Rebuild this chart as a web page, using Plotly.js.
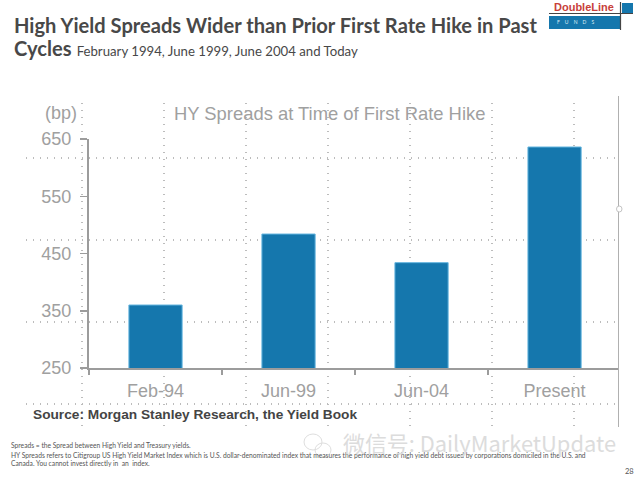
<!DOCTYPE html>
<html>
<head>
<meta charset="utf-8">
<script src="https://cdn.plot.ly/plotly-3.0.1.min.js"></script>
<style>html,body{margin:0;padding:0;background:#fff}</style>
</head>
<body>
<div id="chart" style="width:640px;height:477px"></div>
<script>
const categories = ["Feb-94", "Jun-99", "Jun-04", "Present"];
const spreads = [360, 484, 434, 636];
const yTicks = [250, 350, 450, 550, 650];

const W = 640, H = 477;
const px = x => x / W;
const py = y => 1 - y / H;

const GREY = "#9c9c9c";
const SANS = "Liberation Sans, Arial, sans-serif";
const CAL = "Lato, sans-serif";

const note = (x, y, text, size, color, family, anchor) => ({
  xref: "paper", yref: "paper", x: px(x), y: py(y), text, showarrow: false,
  xanchor: anchor || "left", yanchor: "middle", align: "left",
  font: {size, color, family}
});
const box = (x0, x1, y0, y1, color) => ({
  type: "rect", xref: "paper", yref: "paper", x0: px(x0), x1: px(x1), y0: py(y0), y1: py(y1),
  fillcolor: color, line: {width: 0}
});
const rule = (x0, x1, y0, y1, color, width) => ({
  type: "line", xref: "paper", yref: "paper", x0: px(x0), x1: px(x1), y0: py(y0), y1: py(y1),
  line: {color, width}
});
const ring = (x0, x1, y0, y1, color, fill) => ({
  type: "circle", xref: "paper", yref: "paper", x0: px(x0), x1: px(x1), y0: py(y0), y1: py(y1),
  fillcolor: fill, line: {color, width: 1}
});

const data = [
  {type: "scatter", x: [null], y: [null], xaxis: "x", yaxis: "y", hoverinfo: "skip", showlegend: false},
  {type: "bar", x: categories, y: spreads, xaxis: "x2", yaxis: "y2", width: 0.4,
   marker: {color: "#1577ad", line: {color: "#63b4de", width: 1}}, showlegend: false}
];

const gridStyle = {showgrid: true, griddash: "1.2px,5.8px", gridcolor: "#bcbcbc", gridwidth: 1.2,
  showticklabels: false, zeroline: false, ticks: "", fixedrange: true};

const layout = {
  width: W, height: H, margin: {l: 0, r: 0, t: 0, b: 0},
  paper_bgcolor: "#fff", plot_bgcolor: "rgba(0,0,0,0)",
  showlegend: false, bargap: 0.6,
  xaxis: Object.assign({domain: [px(26), px(617)], range: [26, 617], tick0: 82, dtick: 82, anchor: "y"}, gridStyle),
  yaxis: Object.assign({domain: [py(427), py(103)], range: [427, 103], tick0: 76, dtick: 82, anchor: "x"}, gridStyle),
  xaxis2: {domain: [px(89), px(618)], anchor: "y2", type: "category", categoryorder: "array",
    categoryarray: categories, range: [-0.5, 3.477], tickson: "boundaries", ticks: "outside",
    ticklen: 5, tickcolor: GREY, tickwidth: 1.5, showline: true, linecolor: GREY, linewidth: 2,
    showgrid: false, zeroline: false, ticklabelstandoff: 5,
    tickfont: {family: SANS, size: 18, color: "#a0a0a0"}},
  yaxis2: {domain: [py(368), py(139)], anchor: "x2", range: [250, 650], tickvals: yTicks,
    ticktext: yTicks.map(String), ticks: "outside", ticklen: 7, tickcolor: GREY, tickwidth: 1.5,
    showline: true, linecolor: GREY, linewidth: 2, showgrid: false, zeroline: false,
    ticklabelstandoff: 5, tickfont: {family: SANS, size: 18, color: "#a0a0a0"}},
  shapes: [
    rule(618.5, 618.5, 96, 427, "#b0b0b0", 1),
    ring(616.5, 622, 206, 212, "#c4c4c4", "#fff"),
    box(549, 620, 16, 29, "#1577ad"),
    box(622, 633, 3, 13, "#1577ad"),
    rule(549, 633, 13.5, 13.5, "#444", 1.2),
    rule(620.5, 620.5, 2, 30, "#444", 1.2),
    ring(304, 322, 434, 450, "#dedede", "rgba(0,0,0,0)"),
    ring(315, 331, 443, 457, "#dedede", "rgba(0,0,0,0)")
  ],
  annotations: [
    note(12, 25, "<b>High Yield Spreads Wider than Prior First Rate Hike in Past</b>", 20.1, "#484848", CAL),
    note(12, 48, "<b>Cycles</b> <span style='font-size:13.2px;font-weight:400'>February 1994, June 1999, June 2004 and Today</span>", 20.1, "#484848", CAL),
    note(43, 113, "(bp)", 18, "#a0a0a0", SANS),
    note(172, 113, "HY Spreads at Time of First Rate Hike", 18.4, "#a0a0a0", SANS),
    note(31, 414, "<b>Source: Morgan Stanley Research, the Yield Book</b>", 13.7, "#444", SANS),
    note(9, 445, "Spreads = the Spread between High Yield and Treasury yields.", 6.7, "#555", CAL),
    note(9, 454.5, "HY Spreads refers to Citigroup US High Yield Market Index which is U.S. dollar-denominated index that measures the performance of high yield debt issued by corporations domiciled in the U.S. and", 6.7, "#555", CAL),
    note(9, 463, "Canada. You cannot invest directly in  an  index.", 6.7, "#555", CAL),
    note(341, 442, "微信号: DailyMarketUpdate", 21.9, "#dcdcdc", "Noto Sans CJK SC, sans-serif"),
    note(552, 7, "<b>DoubleLine</b>", 11, "#c8403a", SANS),
    note(555, 22.5, "F    U    N    D    S", 5, "#dcecf5", CAL),
    note(636, 471, "28", 7.5, "#555", CAL, "right")
  ]
};

Plotly.newPlot("chart", data, layout, {staticPlot: true, displayModeBar: false});
</script>
</body>
</html>
